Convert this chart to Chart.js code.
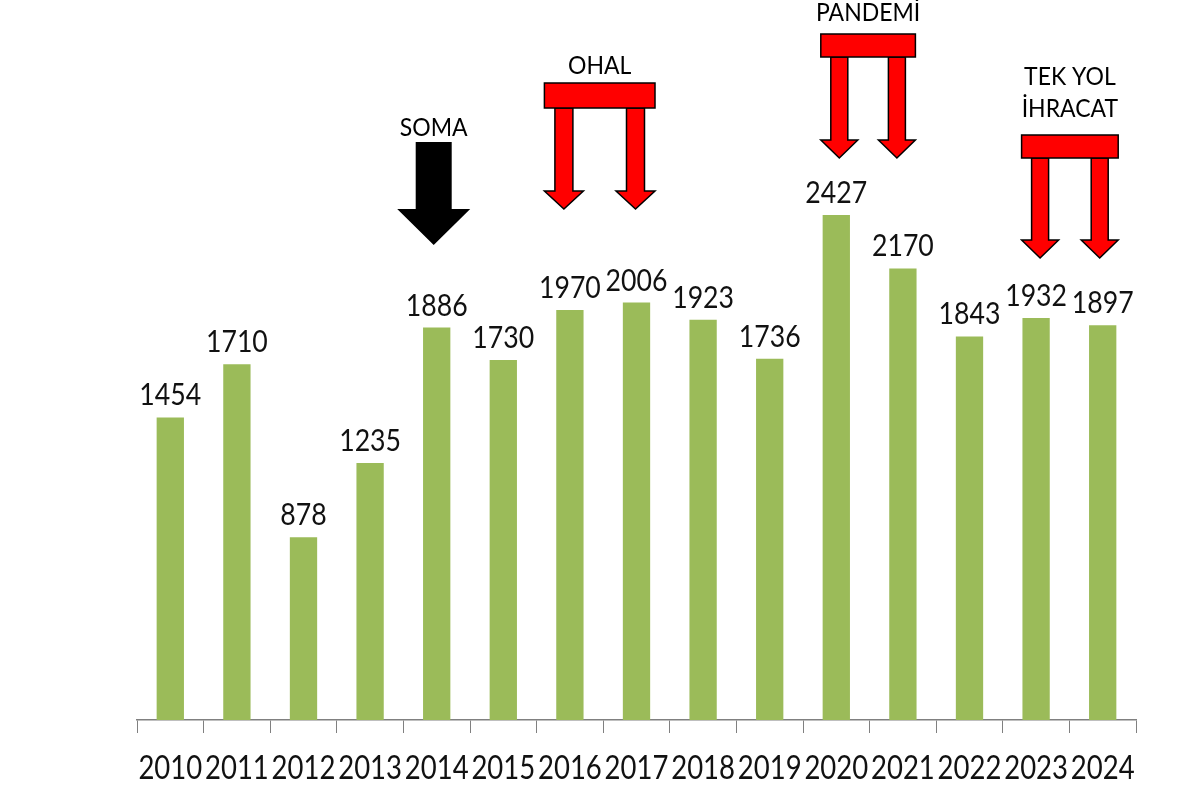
<!DOCTYPE html>
<html>
<head>
<meta charset="utf-8">
<script src="https://cdn.jsdelivr.net/npm/chart.js@4"></script>
<style>
  html, body { margin: 0; padding: 0; background: #fff; }
  #wrap { width: 1188px; height: 805px; }
</style>
</head>
<body>
<div id="wrap"><canvas id="myChart"></canvas></div>
<script>
// Data
const years = ["2010", "2011", "2012", "2013", "2014", "2015", "2016", "2017",
  "2018", "2019", "2020", "2021", "2022", "2023", "2024"];
const values = [1454, 1710, 878, 1235, 1886, 1730, 1970, 2006, 1923, 1736,
  2427, 2170, 1843, 1932, 1897];

// Event notes above the bars: label lines, which years the arrows point at
const eventLabels = [["SOMA"], ["OHAL"], ["PANDEMİ"], ["TEK YOL", "İHRACAT"]];
const eventYears = [["2014"], ["2016", "2017"], ["2020", "2021"], ["2023", "2024"]];

const FONT = "Lato, 'Open Sans', sans-serif";

// draw text squeezed horizontally (source font is narrower than what we have)
function squeezedText(ctx, text, x, y, size, sx) {
  ctx.save();
  ctx.font = size + "px " + FONT;
  ctx.translate(x, y);
  ctx.scale(sx, 1);
  ctx.fillText(text, 0, 0);
  ctx.restore();
}

function downArrow(ctx, cx, top, tip, shaftW, headW, headH, fill) {
  ctx.beginPath();
  ctx.moveTo(cx - shaftW / 2, top);
  ctx.lineTo(cx + shaftW / 2, top);
  ctx.lineTo(cx + shaftW / 2, tip - headH);
  ctx.lineTo(cx + headW / 2, tip - headH);
  ctx.lineTo(cx, tip);
  ctx.lineTo(cx - headW / 2, tip - headH);
  ctx.lineTo(cx - shaftW / 2, tip - headH);
  ctx.closePath();
  ctx.fillStyle = fill;
  ctx.fill();
  if (fill !== "#000") {
    ctx.strokeStyle = "#000";
    ctx.lineWidth = 1.5;
    ctx.stroke();
  }
}

// style of each note: pixel offsets from the year centre, vertical placement
const eventStyle = [
  { dx: [-3], textY: [128], top: 142, tip: 245, shaft: 36, head: 73, headH: 36, black: true },
  { dx: [-6, -1], textY: [66], barTop: 83, barH: 25, tip: 209, shaft: 18, head: 39, headH: 18 },
  { dx: [3, -6], textY: [13], barTop: 34, barH: 23, tip: 158, shaft: 17, head: 37, headH: 18 },
  { dx: [4, -3], textY: [77, 109], barTop: 135, barH: 23, tip: 258, shaft: 17, head: 37, headH: 18 }
];

const notesPlugin = {
  id: "notes",
  afterDraw(chart) {
    const ctx = chart.ctx;
    const x = chart.scales.x;
    const y = chart.scales.y;

    // value labels over bars
    ctx.fillStyle = "#111";
    ctx.textAlign = "center";
    ctx.textBaseline = "alphabetic";
    values.forEach((v, i) => {
      squeezedText(ctx, String(v), x.getPixelForValue(i), y.getPixelForValue(v) - 12, 31, 0.86);
    });

    // year labels under axis
    years.forEach((yr, i) => {
      ctx.fillStyle = "#111";
      squeezedText(ctx, yr, x.getPixelForValue(i), 779, 32, 0.86);
    });

    // event notes
    eventLabels.forEach((lines, k) => {
      const st = eventStyle[k];
      const xs = eventYears[k].map((yr, j) => x.getPixelForValue(years.indexOf(yr)) + st.dx[j]);
      const mid = (xs[0] + xs[xs.length - 1]) / 2;
      ctx.fillStyle = "#000";
      ctx.textAlign = "center";
      ctx.textBaseline = "middle";
      lines.forEach((ln, j) => {
        squeezedText(ctx, ln, mid, st.textY[j], 25, 0.92);
      });
      if (st.black) {
        downArrow(ctx, xs[0], st.top, st.tip, st.shaft, st.head, st.headH, "#000");
      } else {
        const left = xs[0] - st.head / 2;
        const right = xs[xs.length - 1] + st.head / 2;
        xs.forEach(cx => {
          downArrow(ctx, cx, st.barTop + st.barH, st.tip, st.shaft, st.head, st.headH, "#ff0000");
        });
        ctx.fillStyle = "#ff0000";
        ctx.fillRect(left, st.barTop, right - left, st.barH);
        ctx.strokeStyle = "#000";
        ctx.lineWidth = 1.5;
        ctx.strokeRect(left, st.barTop, right - left, st.barH);
      }
    });
  }
};

window.onload = () => {
  const ctx = document.getElementById("myChart").getContext("2d");
  new Chart(ctx, {
    type: "bar",
    data: {
      labels: years,
      datasets: [{
        label: "Sayı",
        data: values,
        backgroundColor: "#9bbb59",
        categoryPercentage: 1,
        barPercentage: 0.41
      }]
    },
    options: {
      responsive: true,
      maintainAspectRatio: false,
      animation: false,
      layout: { padding: { left: 137, right: 52, top: 0, bottom: 0 } },
      plugins: {
        legend: { display: false },
        tooltip: { enabled: false }
      },
      scales: {
        x: {
          offset: true,
          grid: { display: true, drawOnChartArea: false, drawTicks: true, tickLength: 13, color: "#808080" },
          border: { display: true, color: "#808080", width: 1.5 },
          ticks: { display: false },
          afterFit(scale) { scale.height = 85; }
        },
        y: {
          display: false,
          min: 0,
          max: 3460
        }
      }
    },
    plugins: [notesPlugin]
  });
};
</script>
</body>
</html>
